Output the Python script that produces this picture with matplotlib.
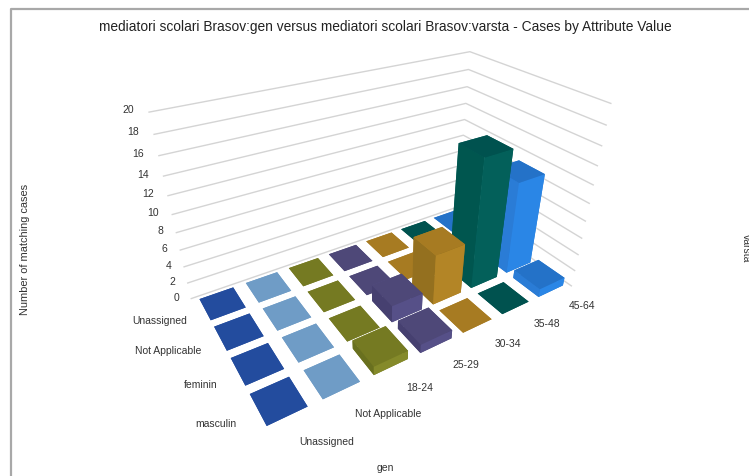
import matplotlib
matplotlib.use("Agg")
import matplotlib.colors as mcolors
import matplotlib.pyplot as plt
import numpy as np
from matplotlib.lines import Line2D

plt.rcParams["font.family"] = ["Liberation Sans", "DejaVu Sans"]

varsta = ["Unassigned", "Not Applicable", "18-24", "25-29", "30-34", "35-48", "45-64"]
gen = ["masculin", "feminin", "Not Applicable", "Unassigned"]
z_ticks = list(range(0, 21, 2))

masculin = [0, 0, 1, 1, 0, 0, 1]
feminin = [0, 0, 0, 2, 6, 15, 11]
not_applicable = [0, 0, 0, 0, 0, 0, 0]
unassigned = [0, 0, 0, 0, 0, 0, 0]
counts = [masculin, feminin, not_applicable, unassigned]

# one (top, left side, right side) triple per varsta column
top_colors = ["#234c9e", "#6f9cc6", "#757a22", "#4e4878", "#a77b22", "#00524f", "#2472c8"]
left_colors = ["#1f4590", "#648db3", "#69701f", "#464070", "#94701f", "#00564f", "#2a7cd6"]
right_colors = ["#2a57ad", "#7aa8d0", "#858a2a", "#565088", "#b38526", "#03605a", "#2a86e6"]

BAR_W = 0.72
BAR_D = 0.78
W, H = 749, 476
BOX = 455
CX, CY = 378, 215

fig = plt.figure(figsize=(W / 100, H / 100), dpi=100)
ax = fig.add_axes(
    [(CX - BOX / 2) / W, 1 - (CY + BOX / 2) / H, BOX / W, BOX / H],
    projection="3d",
    computed_zorder=False,
)
ax.set_proj_type("persp", focal_length=0.23)
ax.view_init(elev=31, azim=-122)
ax.set_box_aspect((6.85, 3.8, 4.0), zoom=1.0)
ax.set_xlim(0, 7)
ax.set_ylim(0, 4)
ax.set_zlim(0, 20)
ax.set_axis_off()

# gridlines on the two back walls
for z in z_ticks:
    line, = ax.plot([0, 7, 7], [4, 4, 0], [z, z, z], color="#d4d4d4", lw=1.0, zorder=1)
    line.set_clip_on(False)
    ax.text(-0.25, 4.0, z, str(z), fontsize=7.5, ha="right", va="bottom", color="#333333", zorder=1)

# far bars first so the near ones cover them
order = 2
for row in range(len(gen) - 1, -1, -1):
    for col in range(len(varsta) - 1, -1, -1):
        face_colors = [
            top_colors[col], top_colors[col],
            right_colors[col], right_colors[col],
            left_colors[col], left_colors[col],
        ]
        bar = ax.bar3d(
            col + (1 - BAR_W) / 2, row + (1 - BAR_D) / 2, 0,
            BAR_W, BAR_D, counts[row][col],
            color=[mcolors.to_rgba(c) for c in face_colors],
            shade=False, zorder=order, linewidth=0,
        )
        bar.set_clip_on(False)
        order += 1

# varsta labels start at the column, gen labels end at the row
for col, label in enumerate(varsta):
    ax.text(col + 0.45, -0.45, 0, label, fontsize=7.5, ha="left", va="center", color="#333333", zorder=100)
for row, label in enumerate(gen):
    ax.text(-0.22, row + 0.5, 0, label, fontsize=7.5, ha="right", va="top", color="#333333", zorder=100)

fig.text(385 / W, 1 - 27 / H, "mediatori scolari Brasov:gen versus mediatori scolari Brasov:varsta - Cases by Attribute Value",
         fontsize=9.9, ha="center", va="center", color="#222222")
fig.text(25 / W, 1 - 249 / H, "Number of matching cases", fontsize=7.9, rotation=90, ha="center", va="center", color="#333333")
fig.text(385 / W, 1 - 468 / H, "gen", fontsize=7.5, ha="center", va="center", color="#333333")
fig.text(746 / W, 1 - 248 / H, "varsta", fontsize=7.5, rotation=270, ha="center", va="center", color="#333333")

# frame drawn around the chart area
fig.add_artist(Line2D([11 / W, 11 / W, 1], [0, 1 - 9 / H, 1 - 9 / H], color="#a8a8a8", lw=1.6))

fig.savefig("out.png", dpi=100)
